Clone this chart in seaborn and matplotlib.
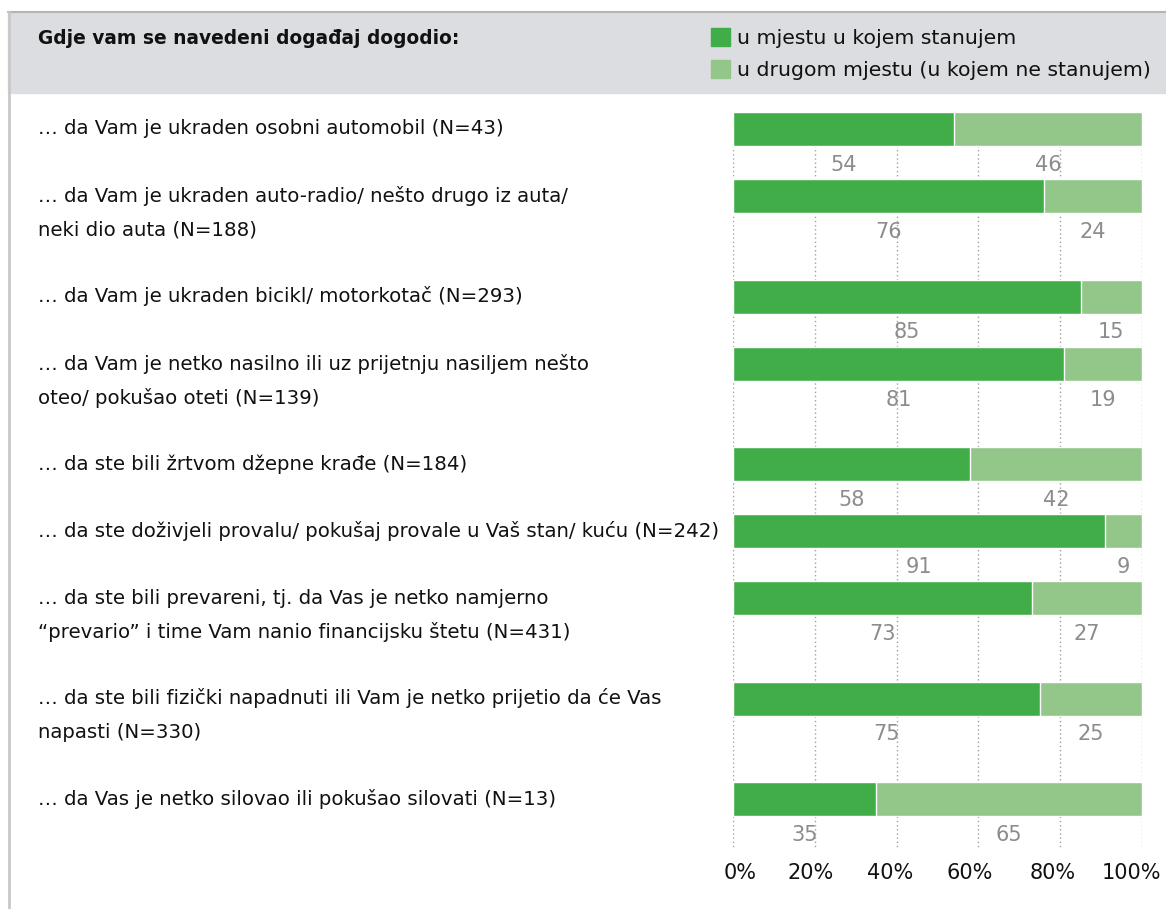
import matplotlib.pyplot as plt
import matplotlib.transforms as mtransforms
import pandas as pd
import seaborn as sns
from matplotlib.lines import Line2D
from matplotlib.patches import Patch, Rectangle

# ----------------- data -----------------
categories = [
    '… da Vam je ukraden osobni automobil (N=43)',
    '… da Vam je ukraden auto-radio/ nešto drugo iz auta/\nneki dio auta (N=188)',
    '… da Vam je ukraden bicikl/ motorkotač (N=293)',
    '… da Vam je netko nasilno ili uz prijetnju nasiljem nešto\noteo/ pokušao oteti (N=139)',
    '… da ste bili žrtvom džepne krađe (N=184)',
    '… da ste doživjeli provalu/ pokušaj provale u Vaš stan/ kuću (N=242)',
    '… da ste bili prevareni, tj. da Vas je netko namjerno\n“prevario” i time Vam nanio financijsku štetu (N=431)',
    '… da ste bili fizički napadnuti ili Vam je netko prijetio da će Vas\nnapasti (N=330)',
    '… da Vas je netko silovao ili pokušao silovati (N=13)',
]
home = [54, 76, 85, 81, 58, 91, 73, 75, 35]
other = [46, 24, 15, 19, 42, 9, 27, 25, 65]
ticks = [0, 20, 40, 60, 80, 100]
tick_labels = ['0%', '20%', '40%', '60%', '80%', '100%']
title = 'Gdje vam se navedeni događaj dogodio:'
legend_labels = ['u mjestu u kojem stanujem', 'u drugom mjestu (u kojem ne stanujem)']

DARK = '#41ad49'
LIGHT = '#93c789'
GREY_NUM = '#8c8c8c'
TEXT = '#111111'

W, H = 1166, 909

sns.set_theme(style='white')
plt.rcParams['font.family'] = ['DejaVu Sans']

# ----------------- layout (pixel rows, top = 0) -----------------
# one-line rows take 67 px, two-line rows 100 px
pos = []
y = 129
for lab in categories:
    pos.append(y)
    y += 100.5 if '\n' in lab else 67

df = pd.DataFrame({'pos': pos, 'home': home,
                   'total': [h + o for h, o in zip(home, other)]})

fig = plt.figure(figsize=(W / 100, H / 100), dpi=100)

# header band and frame lines
fig.patches.append(Rectangle((8 / W, 1 - 93 / H), 1 - 8 / W, 81 / H,
                             transform=fig.transFigure, color='#dcdde0', zorder=0))
fig.lines.append(Line2D([8 / W, 1], [1 - 12 / H, 1 - 12 / H], transform=fig.transFigure,
                        color='#b4b4b4', lw=1.5))
fig.lines.append(Line2D([9 / W, 9 / W], [0, 1 - 12 / H], transform=fig.transFigure,
                        color='#c8c8c8', lw=2))

fig.text(38 / W, 1 - 38 / H, title, fontsize=13.4, fontweight='bold', va='center', color=TEXT)

ax = fig.add_axes([733 / W, (H - 852) / H, 409 / W, 852 / H])
ax.patch.set_alpha(0)

sns.barplot(data=df, x='total', y='pos', orient='h', native_scale=True, color=LIGHT,
            saturation=1, width=34 / 67, errorbar=None, ax=ax, zorder=2)
sns.barplot(data=df, x='home', y='pos', orient='h', native_scale=True, color=DARK,
            saturation=1, width=34 / 67, errorbar=None, ax=ax, zorder=3)

ax.set_xlim(0, 100)
ax.set_ylim(852, 0)
ax.vlines(ticks, 112, 849, colors='#a0a0a0', linestyles=(0, (1, 2)), lw=1, zorder=1)

for s in ax.spines.values():
    s.set_visible(False)
ax.set_yticks([])
ax.set_xticks(ticks)
ax.set_xticklabels(tick_labels, fontsize=15, color=TEXT)
ax.tick_params(axis='x', length=0, pad=8)
ax.set_xlabel('')
ax.set_ylabel('')
# the printed tick labels sit slightly left of the grid lines
for lbl, dx in zip(ax.get_xticklabels(), [7, -4, -6, -9, -8, -11]):
    lbl.set_transform(lbl.get_transform() + mtransforms.ScaledTranslation(dx / 100, 0, fig.dpi_scale_trans))

# value labels under the bars
for p, h, o in zip(pos, home, other):
    ax.text(h / 2, p + 36, str(h), ha='center', va='center', fontsize=15, color=GREY_NUM)
    ax.text(h + o / 2, p + 36, str(o), ha='center', va='center', fontsize=15, color=GREY_NUM)

# row labels on the left
trans = mtransforms.blended_transform_factory(fig.transFigure, ax.transData)
for p, lab in zip(pos, categories):
    for k, line in enumerate(lab.split('\n')):
        ax.text(38 / W, p + k * 34, line, transform=trans, ha='left', va='center',
                fontsize=14.2, color=TEXT, clip_on=False)

handles = [Patch(color=DARK), Patch(color=LIGHT)]
fig.legend(handles=handles, labels=legend_labels, loc='upper left',
           bbox_to_anchor=(711 / W, 1 - 28 / H), frameon=False, fontsize=14.7,
           labelcolor=TEXT, handlelength=0.95, handleheight=0.95, handletextpad=0.3,
           labelspacing=0.62, borderpad=0, borderaxespad=0)

fig.savefig('out.png', dpi=100)
